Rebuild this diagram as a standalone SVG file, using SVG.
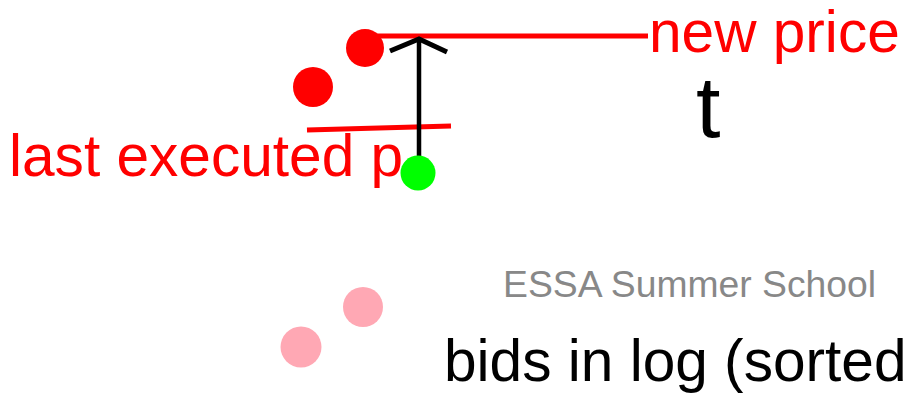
<svg xmlns="http://www.w3.org/2000/svg" width="905" height="393" viewBox="0 0 905 393">
<style>
text{font-family:"Liberation Sans",Arial,sans-serif}
.red{fill:#ff0000}
.lbl{font-size:58.6px}
.ln{stroke-linecap:butt;fill:none}
</style>
<rect width="905" height="393" fill="#ffffff"/>
<g id="connectors">
<line class="ln" x1="372" y1="36" x2="648" y2="36" stroke="#ff0000" stroke-width="5"/>
<line class="ln" x1="307" y1="130" x2="451" y2="126" stroke="#ff0000" stroke-width="5"/>
<line class="ln" x1="419" y1="173" x2="419" y2="39" stroke="#000" stroke-width="4.5"/>
<polyline class="ln" points="390,51 419,39 447,52" stroke="#000" stroke-width="5"/>
</g>
<g id="ask1"><circle cx="365" cy="48" r="19" fill="#ff0000"/></g>
<g id="ask2"><circle cx="313" cy="87" r="20" fill="#ff0000"/></g>
<g id="executed"><circle cx="418" cy="173" r="17.5" fill="#00ff00"/></g>
<g id="bid1"><circle cx="363" cy="307" r="20" fill="#ffa8b4"/></g>
<g id="bid2"><circle cx="301" cy="347" r="20.5" fill="#ffa8b4"/></g>
<g id="labels">
<text x="649" y="52" class="red lbl">new price</text>
<text x="696" y="137" font-size="88" fill="#000">t</text>
<text x="9" y="176" class="red lbl">last executed p</text>
<text x="503" y="297" font-size="37.3" fill="#888888">ESSA Summer School</text>
<text x="444" y="381" class="lbl" fill="#000">bids in log (sorted</text>
</g>
</svg>
